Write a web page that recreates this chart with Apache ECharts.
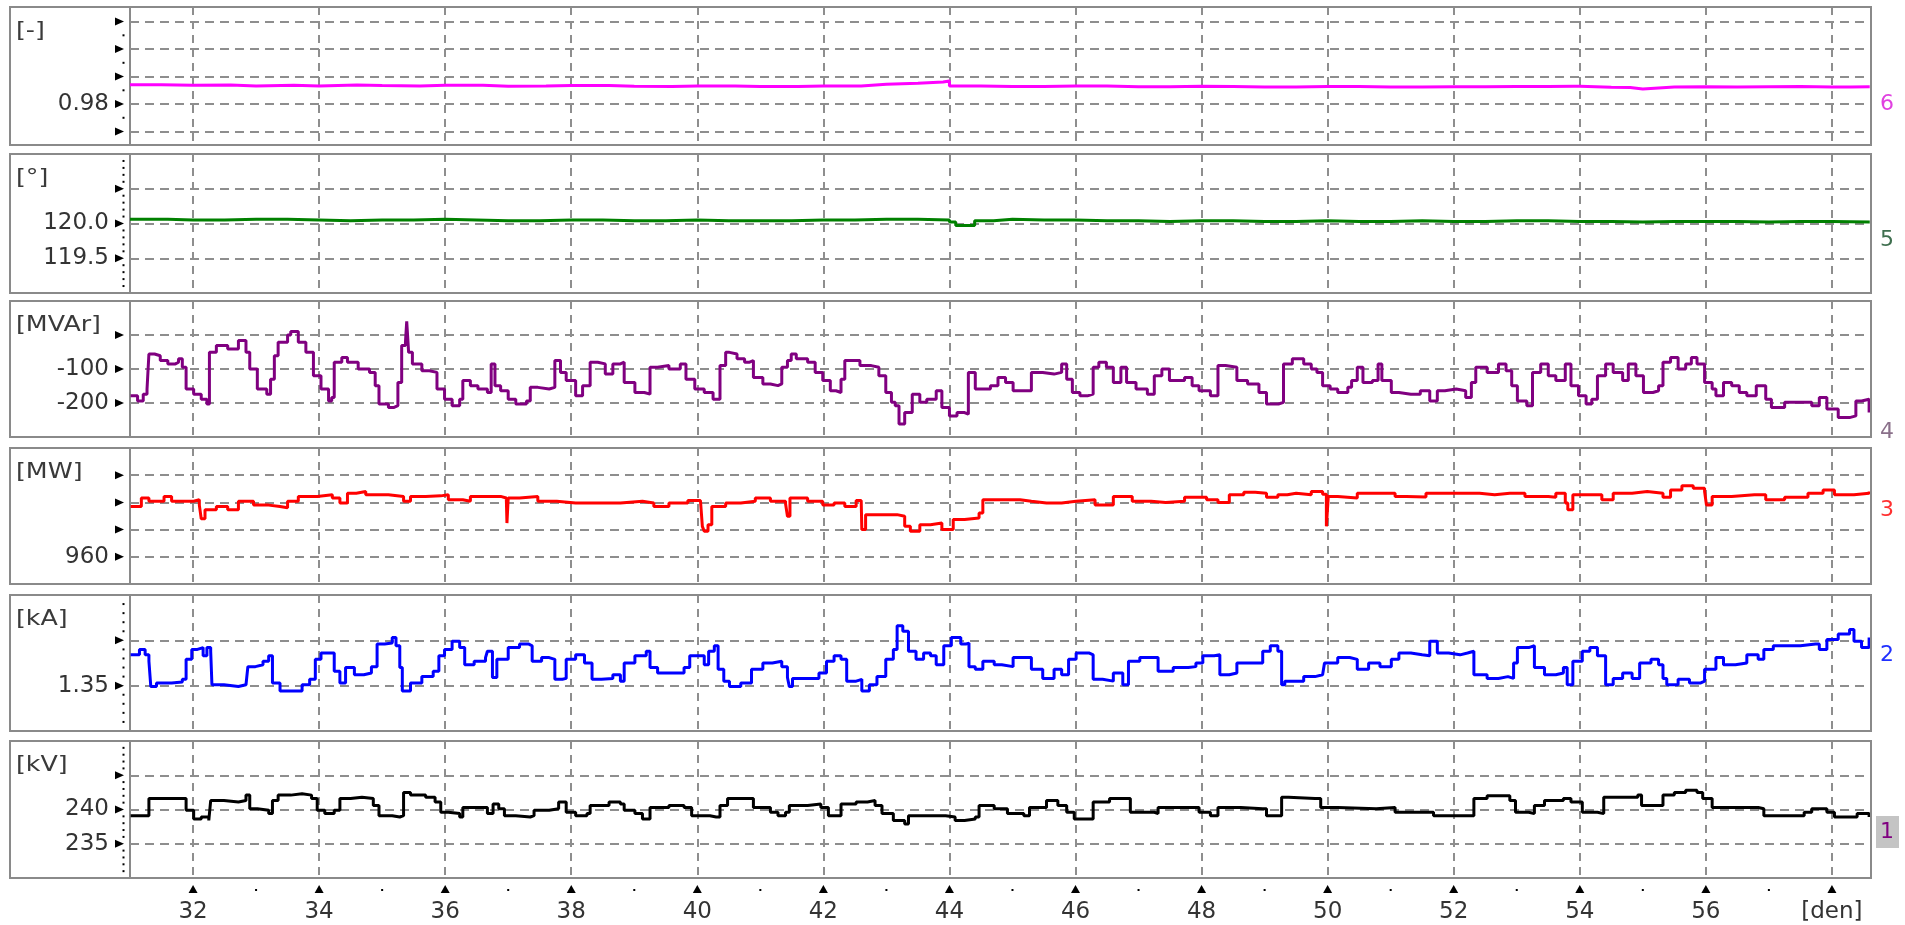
<!DOCTYPE html>
<html><head><meta charset="utf-8">
<script src="https://cdn.jsdelivr.net/npm/echarts@6/dist/echarts.min.js"></script>
<style>html,body{margin:0;padding:0;background:#fff}#c{width:1905px;height:925px}</style>
</head><body><div id="c"></div>
<script>
// ---------------- data ----------------
const X_MIN = 31.0, X_MAX = 58.62;
const xLabelDays = [32,34,36,38,40,42,44,46,48,50,52,54,56];
const xUnitDay = 58, xUnitLabel = '[den]';
const xMinorDays = [33,35,37,39,41,43,45,47,49,51,53,55,57];
const units = ['[-]','[°]','[MVAr]','[MW]','[kA]','[kV]'];
const traceNumbers = ['6','5','4','3','2','1'];
const yShownLabels = [[0.98],[120.0,119.5],[-100,-200],[960],[1.35],[240,235]];
const yLabelDecimals = [2,1,0,0,2,0];
const yMin = [0.9651,119,-300,950,1.30,230];
const yMax = [1.0153,121,100,1000,1.45,250];
const yInterval = [null,0.5,100,10,0.05,5];
const yMajorTicks = [[0.97,0.98,0.99,1.00,1.01],[119.5,120,120.5],[-200,-100,0],[960,970,980,990],[1.35,1.40],[235,240,245]];
const yMinorTicks = [
  [0.975,0.985,0.995,1.005],
  [119.1,119.2,119.3,119.4,119.6,119.7,119.8,119.9,120.1,120.2,120.3,120.4,120.6,120.7,120.8,120.9],
  [],[],
  [1.31,1.32,1.33,1.34,1.36,1.37,1.38,1.39,1.41,1.42,1.43,1.44],
  [231,232,233,234,236,237,238,239,241,242,243,244,246,247,248,249]
];

// 6: power factor [-]
const pfPts = [[31.0,0.9870],[31.5,0.9868],[32,0.9869],[32.6,0.9866],[33.0,0.9868],[33.6,0.9866],[34,0.9869],[34.6,0.9867],[35,0.9866],[35.6,0.9868],[36,0.9868],[36.6,0.9865],[37,0.9866],[37.6,0.9867],[38,0.9867],[38.6,0.9865],[39,0.9864],[39.6,0.9866],[40,0.9866],[40.6,0.9864],[41,0.9864],[41.6,0.9866],[42,0.9866],[42.6,0.9872],[43.0,0.9876],[43.5,0.9880],[43.9,0.9884],[44.0,0.9866],[44.5,0.9864],[45,0.9864],[45.5,0.9866],[46,0.9866],[46.5,0.9863],[47,0.9863],[47.5,0.9865],[48,0.9864],[48.5,0.9862],[49,0.9862],[49.5,0.9864],[50,0.9864],[50.5,0.9862],[51,0.9862],[51.5,0.9863],[52,0.9863],[52.5,0.9864],[53,0.9864],[53.5,0.9865],[53.9,0.9865],[54.0,0.9861],[54.5,0.9860],[54.8,0.9855],[55.0,0.9862],[55.5,0.9863],[56,0.9862],[56.5,0.9863],[57,0.9864],[57.5,0.9862],[58,0.9862],[58.3,0.9863],[58.6,0.9864]];
// 5: angle [°]
const angPts = [[31.0,120.06],[31.6,120.05],[32.0,120.05],[32.5,120.06],[33.0,120.06],[33.5,120.05],[34.0,120.04],[34.5,120.05],[35.0,120.05],[35.5,120.06],[36.0,120.05],[36.5,120.04],[37.0,120.04],[37.5,120.05],[38.0,120.05],[38.5,120.04],[39.0,120.04],[39.5,120.05],[40.0,120.04],[40.5,120.04],[41.0,120.04],[41.5,120.05],[42.0,120.05],[42.5,120.06],[43.0,120.06],[43.5,120.05],[44.0,120.02],[44.1,119.97],[44.4,120.04],[44.7,120.06],[45.0,120.05],[45.5,120.05],[46.0,120.04],[46.5,120.04],[47.0,120.03],[47.5,120.04],[48.0,120.04],[48.5,120.03],[49.0,120.03],[49.5,120.04],[50.0,120.03],[50.5,120.03],[51.0,120.04],[51.5,120.03],[52.0,120.03],[52.5,120.04],[53.0,120.04],[53.5,120.03],[54.0,120.03],[54.5,120.02],[55.0,120.03],[55.5,120.03],[56.0,120.03],[56.5,120.02],[57.0,120.03],[57.5,120.03],[58.0,120.02],[58.6,120.02]];
// 4: reactive power [MVAr]
const qPts = [[31.01,-179],[31.12,-194],[31.21,-174],[31.27,-159],[31.30,-56],[31.39,-61],[31.48,-75],[31.60,-85],[31.72,-80],[31.77,-70],[31.83,-95],[31.89,-159],[32.01,-174],[32.13,-189],[32.22,-203],[32.26,-51],[32.37,-31],[32.55,-41],[32.72,-16],[32.84,-51],[32.90,-100],[33.02,-159],[33.17,-174],[33.23,-130],[33.29,-61],[33.35,-21],[33.50,0],[33.55,10],[33.67,-21],[33.79,-51],[33.91,-120],[34.03,-159],[34.15,-194],[34.20,-184],[34.24,-80],[34.36,-66],[34.45,-80],[34.62,-100],[34.80,-110],[34.89,-149],[34.95,-203],[35.10,-213],[35.19,-208],[35.25,-140],[35.31,-31],[35.37,-21],[35.39,40],[35.42,-51],[35.48,-85],[35.63,-105],[35.75,-110],[35.87,-159],[35.99,-189],[36.11,-208],[36.23,-189],[36.28,-134],[36.40,-149],[36.52,-159],[36.67,-169],[36.73,-85],[36.79,-149],[36.88,-164],[37.00,-189],[37.12,-203],[37.29,-194],[37.35,-154],[37.47,-159],[37.65,-154],[37.74,-75],[37.83,-110],[37.92,-134],[38.07,-179],[38.18,-149],[38.30,-80],[38.42,-85],[38.54,-115],[38.66,-85],[38.78,-80],[38.84,-140],[39.01,-169],[39.16,-174],[39.25,-95],[39.37,-90],[39.55,-100],[39.73,-85],[39.82,-130],[39.96,-159],[40.11,-169],[40.25,-189],[40.36,-90],[40.45,-51],[40.51,-56],[40.63,-70],[40.75,-80],[40.83,-75],[40.89,-125],[41.04,-144],[41.16,-149],[41.28,-144],[41.34,-95],[41.43,-75],[41.49,-56],[41.57,-70],[41.75,-80],[41.87,-110],[41.99,-134],[42.11,-164],[42.20,-169],[42.28,-130],[42.34,-75],[42.46,-75],[42.58,-90],[42.76,-95],[42.88,-120],[42.99,-169],[43.08,-198],[43.14,-208],[43.20,-262],[43.29,-228],[43.41,-174],[43.53,-198],[43.64,-189],[43.79,-164],[43.88,-213],[44.00,-238],[44.12,-228],[44.24,-233],[44.30,-110],[44.41,-159],[44.53,-159],[44.65,-149],[44.77,-125],[44.89,-140],[45.01,-164],[45.18,-164],[45.30,-110],[45.48,-115],[45.66,-110],[45.78,-85],[45.86,-130],[45.95,-169],[46.07,-179],[46.19,-174],[46.28,-95],[46.37,-80],[46.49,-95],[46.60,-140],[46.72,-95],[46.81,-140],[46.96,-159],[47.14,-174],[47.25,-120],[47.37,-100],[47.49,-134],[47.73,-125],[47.85,-149],[47.96,-164],[48.14,-179],[48.26,-90],[48.38,-95],[48.56,-134],[48.73,-144],[48.91,-169],[49.03,-203],[49.22,-198],[49.30,-85],[49.44,-70],[49.53,-70],[49.62,-85],[49.74,-100],[49.83,-110],[49.92,-149],[50.04,-159],[50.16,-169],[50.25,-169],[50.32,-154],[50.38,-134],[50.47,-95],[50.56,-140],[50.71,-134],[50.80,-85],[50.86,-134],[51.01,-169],[51.13,-174],[51.32,-174],[51.47,-164],[51.62,-194],[51.74,-164],[51.86,-159],[52.04,-164],[52.19,-184],[52.28,-140],[52.35,-95],[52.53,-110],[52.71,-85],[52.83,-105],[52.92,-149],[53.01,-194],[53.16,-208],[53.25,-110],[53.38,-85],[53.50,-120],[53.62,-134],[53.77,-85],[53.86,-149],[53.98,-179],[54.10,-203],[54.19,-189],[54.28,-120],[54.41,-85],[54.53,-110],[54.68,-134],[54.77,-85],[54.89,-120],[55.01,-169],[55.16,-164],[55.25,-149],[55.32,-80],[55.44,-66],[55.56,-100],[55.68,-85],[55.77,-66],[55.86,-85],[55.98,-140],[56.10,-159],[56.16,-179],[56.28,-140],[56.41,-149],[56.53,-169],[56.65,-179],[56.80,-149],[56.95,-189],[57.04,-213],[57.25,-198],[57.50,-198],[57.68,-208],[57.80,-184],[57.92,-218],[58.10,-243],[58.28,-238],[58.38,-194],[58.47,-189],[58.59,-228]];
// 3: active power [MW]
const pPts = [[31.01,978.5],[31.18,981.6],[31.30,980.4],[31.54,982.2],[31.66,980.4],[32.01,981],[32.10,979],[32.13,974],[32.19,977.3],[32.37,978.5],[32.55,977.3],[32.72,980.4],[32.96,979],[33.20,978.5],[33.38,978],[33.50,980.4],[33.67,982.2],[33.97,982.8],[34.21,981.6],[34.33,979.8],[34.45,983.4],[34.59,984],[34.74,982.8],[35.10,982.2],[35.34,980.4],[35.45,982.2],[35.69,982.4],[35.93,982.8],[36.05,981],[36.28,980.4],[36.40,982.2],[36.64,982.2],[36.88,981.6],[36.97,981.6],[36.98,972.4],[37.00,981.6],[37.18,982.2],[37.47,980.4],[37.77,979.8],[38.07,979.8],[38.42,979.8],[38.78,980.4],[39.13,979.8],[39.31,978.5],[39.55,979.8],[39.85,980.7],[40.05,980.4],[40.08,971.2],[40.11,969.4],[40.17,971.8],[40.23,978.5],[40.45,979.8],[40.69,980.4],[40.92,981.6],[41.16,980.4],[41.40,979.5],[41.43,974.9],[41.47,981.6],[41.75,980.4],[41.99,979],[42.17,979.8],[42.34,978.5],[42.52,980.7],[42.60,980.4],[42.61,970],[42.67,975.5],[42.88,975.5],[43.05,975.5],[43.17,974.9],[43.29,971.2],[43.38,969.4],[43.53,971.8],[43.70,972.4],[43.88,970],[44.00,970],[44.06,973.7],[44.24,974.3],[44.47,976.1],[44.53,981],[44.83,981],[45.12,980.4],[45.30,979.8],[45.54,979.8],[45.78,980.4],[46.01,981],[46.31,979],[46.60,982.2],[46.90,980.4],[47.20,980],[47.43,980.4],[47.73,981.9],[48.08,981],[48.26,980],[48.44,982.8],[48.67,983.7],[48.85,983.4],[49.03,981.9],[49.21,982.8],[49.36,983.4],[49.50,982.8],[49.74,984],[49.92,983],[49.98,971.2],[50.01,982.2],[50.16,981.6],[50.47,983.4],[50.89,983.4],[51.07,982.2],[51.25,982],[51.56,983.4],[51.80,983.4],[52.16,983.4],[52.41,982.8],[52.65,983.4],[52.89,983.4],[53.13,982.2],[53.50,981.9],[53.62,983.4],[53.77,979.8],[53.81,977.3],[53.89,982.8],[54.10,982.8],[54.35,981],[54.53,983.4],[54.83,984],[55.07,983.4],[55.32,981.9],[55.44,984.6],[55.62,986.1],[55.80,985.2],[55.98,984],[56.01,979],[56.10,982.2],[56.41,982.8],[56.77,982.8],[56.95,981],[57.25,981.9],[57.62,983.4],[57.86,984.6],[58.04,982.8],[58.35,983.4],[58.59,984]];
// 2: current [kA]
const iPts = [[31.01,1.384],[31.15,1.390],[31.24,1.384],[31.30,1.377],[31.33,1.349],[31.42,1.353],[31.66,1.354],[31.83,1.357],[31.89,1.379],[31.98,1.390],[32.07,1.392],[32.16,1.383],[32.22,1.392],[32.28,1.388],[32.30,1.351],[32.49,1.349],[32.72,1.351],[32.84,1.349],[32.87,1.371],[32.99,1.373],[33.11,1.377],[33.20,1.383],[33.26,1.353],[33.38,1.344],[33.55,1.344],[33.73,1.351],[33.85,1.357],[33.94,1.379],[34.03,1.386],[34.15,1.386],[34.24,1.366],[34.33,1.353],[34.42,1.370],[34.56,1.362],[34.71,1.364],[34.83,1.371],[34.92,1.396],[35.04,1.397],[35.16,1.403],[35.22,1.394],[35.28,1.370],[35.32,1.344],[35.45,1.353],[35.63,1.360],[35.81,1.366],[35.90,1.383],[35.99,1.390],[36.11,1.399],[36.23,1.392],[36.31,1.373],[36.46,1.377],[36.64,1.381],[36.67,1.388],[36.75,1.359],[36.82,1.379],[37.00,1.392],[37.18,1.396],[37.32,1.394],[37.38,1.377],[37.53,1.381],[37.65,1.379],[37.74,1.357],[37.86,1.358],[37.92,1.379],[38.07,1.384],[38.21,1.375],[38.33,1.357],[38.48,1.358],[38.66,1.362],[38.78,1.355],[38.84,1.375],[39.01,1.383],[39.19,1.388],[39.25,1.370],[39.37,1.364],[39.61,1.364],[39.79,1.370],[39.88,1.383],[40.02,1.383],[40.11,1.373],[40.18,1.388],[40.27,1.394],[40.33,1.368],[40.42,1.355],[40.51,1.349],[40.69,1.353],[40.80,1.353],[40.86,1.368],[41.04,1.375],[41.19,1.377],[41.34,1.371],[41.43,1.359],[41.46,1.349],[41.51,1.358],[41.81,1.358],[41.93,1.364],[42.05,1.377],[42.17,1.383],[42.28,1.379],[42.37,1.355],[42.52,1.357],[42.61,1.344],[42.73,1.351],[42.85,1.360],[42.99,1.379],[43.11,1.390],[43.17,1.416],[43.26,1.410],[43.35,1.388],[43.47,1.379],[43.59,1.386],[43.70,1.383],[43.79,1.373],[43.91,1.394],[44.03,1.403],[44.18,1.396],[44.27,1.397],[44.31,1.371],[44.41,1.368],[44.53,1.377],[44.71,1.373],[44.83,1.371],[45.01,1.381],[45.18,1.381],[45.30,1.368],[45.48,1.358],[45.66,1.368],[45.78,1.362],[45.89,1.379],[46.01,1.386],[46.22,1.384],[46.28,1.357],[46.43,1.355],[46.60,1.364],[46.75,1.351],[46.84,1.377],[47.02,1.381],[47.20,1.381],[47.31,1.366],[47.55,1.370],[47.79,1.371],[47.91,1.375],[48.02,1.383],[48.20,1.384],[48.29,1.362],[48.44,1.364],[48.56,1.375],[48.79,1.375],[48.97,1.388],[49.09,1.394],[49.21,1.388],[49.27,1.351],[49.32,1.355],[49.50,1.355],[49.62,1.360],[49.80,1.362],[49.92,1.362],[49.95,1.375],[50.16,1.381],[50.35,1.379],[50.47,1.368],[50.65,1.375],[50.83,1.371],[51.01,1.379],[51.13,1.386],[51.32,1.384],[51.50,1.383],[51.62,1.399],[51.74,1.386],[51.92,1.384],[52.10,1.386],[52.22,1.388],[52.32,1.362],[52.53,1.358],[52.71,1.360],[52.86,1.358],[52.95,1.375],[53.01,1.392],[53.19,1.394],[53.28,1.370],[53.44,1.362],[53.62,1.364],[53.74,1.370],[53.80,1.351],[53.89,1.377],[54.04,1.388],[54.16,1.392],[54.28,1.383],[54.41,1.351],[54.53,1.358],[54.68,1.364],[54.83,1.358],[54.95,1.375],[55.13,1.379],[55.25,1.373],[55.32,1.358],[55.38,1.351],[55.56,1.357],[55.74,1.353],[55.92,1.355],[55.98,1.368],[56.16,1.381],[56.28,1.373],[56.47,1.375],[56.65,1.384],[56.83,1.379],[56.92,1.390],[57.07,1.394],[57.32,1.394],[57.50,1.396],[57.74,1.396],[57.80,1.390],[57.92,1.401],[58.10,1.407],[58.28,1.412],[58.35,1.399],[58.47,1.392],[58.59,1.403]];
// 1: voltage [kV]
const uPts = [[31.01,239.1],[31.24,239.1],[31.30,241.6],[31.83,241.6],[31.89,239.9],[32.01,238.6],[32.13,238.9],[32.25,238.4],[32.28,241.3],[32.49,241.1],[32.72,241.3],[32.84,242.1],[32.90,240.1],[33.02,239.9],[33.20,239.4],[33.26,241.3],[33.35,242.1],[33.55,242.3],[33.73,242.1],[33.88,241.6],[33.97,239.9],[34.09,239.4],[34.24,239.9],[34.33,241.6],[34.50,241.8],[34.68,241.6],[34.86,240.6],[34.95,239.1],[35.16,238.9],[35.28,239.1],[35.34,242.5],[35.45,242.1],[35.69,241.8],[35.84,241.1],[35.93,239.6],[36.05,239.4],[36.23,238.9],[36.28,240.3],[36.52,240.3],[36.67,239.4],[36.76,240.8],[36.85,240.1],[36.94,239.1],[37.12,238.9],[37.35,239.1],[37.41,239.9],[37.65,240.1],[37.80,241.1],[37.92,239.6],[38.07,239.1],[38.25,239.4],[38.30,240.6],[38.60,241.1],[38.78,240.8],[38.84,239.9],[39.01,239.4],[39.13,238.6],[39.25,240.3],[39.55,240.6],[39.79,240.3],[39.91,239.1],[40.20,238.9],[40.30,238.9],[40.36,240.6],[40.48,241.6],[40.83,241.6],[40.89,240.3],[41.16,239.6],[41.28,239.1],[41.40,239.6],[41.46,240.6],[41.75,240.8],[41.96,240.3],[42.08,239.1],[42.22,239.1],[42.28,240.8],[42.52,241.1],[42.70,241.3],[42.82,240.6],[42.93,239.4],[43.11,238.4],[43.29,237.9],[43.35,239.1],[43.82,239.1],[43.94,238.9],[44.09,238.4],[44.24,238.6],[44.41,238.9],[44.47,240.6],[44.71,240.1],[44.92,239.4],[45.18,239.1],[45.27,240.3],[45.54,241.3],[45.72,240.6],[45.86,239.6],[45.98,238.6],[46.19,238.6],[46.28,241.1],[46.54,241.6],[46.78,241.6],[46.87,239.6],[47.25,239.4],[47.31,240.3],[47.91,240.3],[47.96,239.6],[48.14,239.1],[48.26,240.3],[48.62,240.1],[48.97,240.1],[49.03,239.1],[49.21,239.1],[49.27,241.8],[49.38,241.6],[49.80,241.6],[49.89,240.3],[50.16,240.1],[50.77,240.3],[51.07,239.6],[51.62,239.6],[51.68,239.1],[52.25,239.1],[52.32,241.6],[52.53,242.0],[52.89,241.3],[52.98,239.6],[53.19,239.4],[53.28,240.6],[53.44,241.3],[53.74,241.6],[53.86,241.1],[54.04,239.6],[54.28,239.4],[54.38,241.8],[54.92,242.1],[54.98,240.6],[55.25,240.6],[55.32,242.1],[55.50,242.5],[55.68,242.8],[55.86,242.5],[55.95,241.6],[56.10,240.3],[56.83,240.1],[56.92,239.1],[57.25,239.1],[57.56,239.6],[57.68,240.1],[57.92,239.6],[58.04,238.9],[58.28,238.9],[58.40,239.4],[58.59,238.9]];

const seriesPts = [pfPts, angPts, qPts, pPts, iPts, uPts];

// ---------------- layout / style ----------------
const boxes = [[7,138],[154,139],[301,136],[448,136],[595,136],[741,137]];
const colors = ['#ff00ff','#008000','#800080','#ff0000','#0000ff','#000000'];
const numColors = ['#e040e0','#3f6f4f','#8a708a','#ff3030','#2030ff','#800080'];
const FONT = 'DejaVu Sans';
const gridColor = '#8e8e8e';

const grids = [], xAxes = [], yAxes = [], series = [];
for (let i = 0; i < 6; i++) {
  const [top, h] = boxes[i];
  grids.push({left: 130, top: top, width: 1741, height: h, show: true,
    borderColor: '#8a8a8a', borderWidth: 2, backgroundColor: 'transparent'});
  xAxes.push({
    gridIndex: i, type: 'value', min: X_MIN, max: X_MAX, splitNumber: 14,
    position: 'bottom', offset: i === 5 ? 15 : 0,
    axisLine: {show: false}, axisTick: {show: false},
    axisLabel: {show: i === 5, margin: 8, fontSize: 23, fontFamily: FONT, color: '#333',
      showMinLabel: false, showMaxLabel: false, hideOverlap: false,
      formatter: v => {
        if (Math.abs(v - xUnitDay) < 1e-6) return xUnitLabel;
        const r = Math.round(v);
        return (Math.abs(v - r) < 1e-6 && xLabelDays.indexOf(r) >= 0) ? String(r) : '';
      }},
    splitLine: {show: true, showMinLine: false, showMaxLine: false,
      lineStyle: {color: gridColor, width: 2, type: [8, 6]}}
  });
  const ya = {
    gridIndex: i, type: 'value', min: yMin[i], max: yMax[i],
    axisLine: {show: false}, axisTick: {show: false}, minorTick: {show: false},
    axisLabel: {margin: 21, fontSize: 23, fontFamily: FONT, color: '#333',
      showMinLabel: false, showMaxLabel: false,
      formatter: v => {
        const hit = yShownLabels[i].some(s => Math.abs(s - v) < 1e-7);
        return hit ? v.toFixed(yLabelDecimals[i]) : '';
      }},
    splitLine: {show: true, showMinLine: false, showMaxLine: false,
      lineStyle: {color: gridColor, width: 2, type: [9, 6]}}
  };
  if (yInterval[i]) ya.interval = yInterval[i]; else ya.splitNumber = 5;
  yAxes.push(ya);
  series.push({type: 'line', xAxisIndex: i, yAxisIndex: i, data: seriesPts[i],
    step: 'end', showSymbol: false, symbol: 'none', silent: true, animation: false, z: 5,
    lineStyle: {color: colors[i], width: 3}});
}

const chart = echarts.init(document.getElementById('c'), null, {renderer: 'canvas'});
chart.setOption({backgroundColor: '#ffffff', animation: false,
  grid: grids, xAxis: xAxes, yAxis: yAxes, series: series});

// ---------------- decorations (boxes, units, tick markers) ----------------
const g = [];
boxes.forEach(([top, h], i) => {
  g.push({type: 'rect', silent: true, z: 10,
    shape: {x: 10, y: top, width: 1861, height: h},
    style: {fill: null, stroke: '#8a8a8a', lineWidth: 2}});
  g.push({type: 'text', silent: true, x: 16, y: top + 13, z: 10, scaleX: 1.15,
    style: {text: units[i], fontSize: 22, fontFamily: FONT, fill: '#3a3a3a', align: 'left', verticalAlign: 'top'}});
  yMajorTicks[i].forEach(v => {
    const y = chart.convertToPixel({yAxisIndex: i}, v);
    g.push({type: 'polygon', silent: true, z: 10,
      shape: {points: [[115, y - 4], [124, y], [115, y + 4]]}, style: {fill: '#000'}});
  });
  yMinorTicks[i].forEach(v => {
    const y = chart.convertToPixel({yAxisIndex: i}, v);
    g.push({type: 'rect', silent: true, z: 10,
      shape: {x: 122.5, y: y - 1, width: 2, height: 2}, style: {fill: '#000'}});
  });
  const ny = [104, 240, 432, 510, 655, 832][i];
  if (i === 5) {
    g.push({type: 'rect', silent: true, z: 9, shape: {x: 1876, y: 816, width: 23, height: 32}, style: {fill: '#c4c4c4'}});
  }
  g.push({type: 'text', silent: true, x: 1887, y: ny, z: 10,
    style: {text: traceNumbers[i], fontSize: 22, fontFamily: FONT, fill: numColors[i], align: 'center', verticalAlign: 'middle'}});
});
xLabelDays.concat([xUnitDay]).forEach(d => {
  const x = chart.convertToPixel({xAxisIndex: 5}, d);
  g.push({type: 'polygon', silent: true, z: 10,
    shape: {points: [[x - 4.5, 893], [x, 885], [x + 4.5, 893]]}, style: {fill: '#000'}});
});
xMinorDays.forEach(d => {
  const x = chart.convertToPixel({xAxisIndex: 5}, d);
  g.push({type: 'rect', silent: true, z: 10, shape: {x: x - 1, y: 889, width: 2, height: 2}, style: {fill: '#000'}});
});
chart.setOption({graphic: g});
</script>
</body></html>
